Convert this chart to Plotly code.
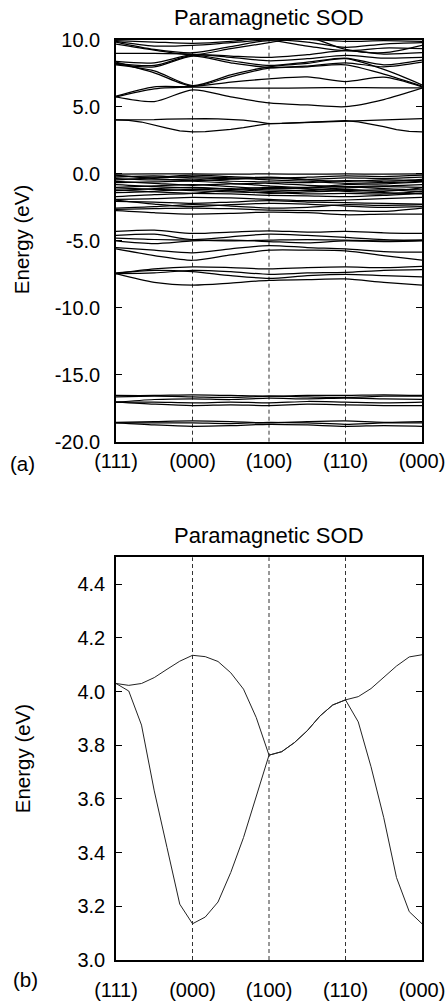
import plotly.graph_objects as go

# ---------------- data ----------------
k_labels = ["(111)", "(000)", "(100)", "(110)", "(000)"]
k_ticks = [0, 1, 2, 3, 4]
sym_lines = [1, 2, 3]

# fine k path (panel b), 6 samples per segment
k_fine = [0, 1/6, 2/6, 3/6, 4/6, 5/6, 1, 7/6, 8/6, 9/6, 10/6, 11/6, 2,
          13/6, 14/6, 15/6, 16/6, 17/6, 3, 19/6, 20/6, 21/6, 22/6, 23/6, 4]
band_low = [4.030, 4.002, 3.875, 3.630, 3.419, 3.208, 3.135, 3.160, 3.216, 3.326, 3.456, 3.611, 3.763,
            3.776, 3.810, 3.854, 3.909, 3.950, 3.969, 3.887, 3.720, 3.530, 3.307, 3.180, 3.135]
band_up = [4.030, 4.023, 4.030, 4.052, 4.083, 4.113, 4.135, 4.130, 4.112, 4.070, 4.009, 3.903, 3.763,
           3.776, 3.810, 3.854, 3.909, 3.950, 3.969, 3.981, 4.011, 4.052, 4.095, 4.129, 4.137]

# coarse k path (panel a)
k_coarse = [0, 0.5, 1, 1.5, 2, 2.5, 3, 3.5, 4]

conduction_bands = [
    [5.75, 5.40, 6.28, 5.75, 5.30, 5.15, 5.02, 5.55, 6.40],
    [5.75, 6.35, 6.48, 6.42, 6.40, 6.42, 6.45, 6.42, 6.42],
    [5.80, 6.50, 6.52, 6.85, 7.10, 7.25, 6.90, 7.22, 6.50],
    [8.35, 7.55, 6.55, 7.25, 7.90, 8.00, 8.15, 7.45, 6.55],
    [8.15, 7.70, 6.60, 7.40, 8.00, 8.25, 8.60, 7.80, 6.65],
    [8.25, 8.10, 8.85, 8.45, 8.10, 8.35, 8.65, 8.15, 8.50],
    [8.40, 8.30, 8.90, 8.70, 8.45, 8.60, 8.85, 8.65, 8.70],
    [9.00, 9.00, 8.95, 8.80, 8.70, 8.90, 9.20, 8.95, 9.05],
    [9.85, 9.30, 9.05, 9.50, 9.95, 9.55, 9.20, 9.40, 9.35],
    [9.90, 9.55, 9.60, 9.80, 10.00, 9.85, 9.45, 9.70, 9.80],
    [9.95, 9.85, 9.75, 9.90, 10.20, 10.05, 9.90, 9.95, 9.90],
    [9.70, 9.25, 8.90, 9.35, 9.80, 10.20, 9.30, 9.05, 9.60],
    [8.20, 8.00, 8.80, 8.30, 7.95, 8.05, 8.30, 8.00, 8.35],
]

valence_top = [
    [-0.02, 0.00, 0.00, -0.02, 0.00, -0.02, 0.00, -0.02, 0.00],
    [-0.15, -0.25, -0.10, -0.20, -0.30, -0.25, -0.15, -0.20, -0.10],
    [-0.35, -0.45, -0.40, -0.55, -0.60, -0.65, -0.50, -0.55, -0.40],
    [-0.55, -0.70, -0.85, -0.75, -0.70, -0.85, -0.95, -0.90, -0.80],
    [-0.80, -0.95, -1.05, -1.10, -1.20, -1.25, -1.15, -1.30, -1.05],
    [-1.05, -1.15, -1.25, -1.35, -1.40, -1.50, -1.45, -1.50, -1.30],
    [-1.20, -1.35, -1.45, -1.50, -1.60, -1.65, -1.70, -1.60, -1.45],
    [-1.70, -1.55, -1.45, -1.20, -1.00, -1.10, -1.30, -1.40, -1.50],
    [-1.90, -1.85, -1.75, -1.80, -1.90, -2.00, -1.95, -1.85, -1.75],
    [-1.95, -2.25, -2.45, -2.30, -2.20, -2.25, -2.40, -2.50, -2.45],
    [-2.55, -2.45, -2.30, -2.40, -2.55, -2.50, -2.30, -2.35, -2.30],
    [-2.65, -2.60, -2.55, -2.60, -2.70, -2.75, -2.75, -2.80, -2.55],
    [-2.75, -2.90, -3.00, -2.95, -2.85, -2.90, -3.05, -3.00, -3.00],
    [-0.10, -0.35, -0.50, -0.40, -0.30, -0.45, -0.55, -0.45, -0.50],
    [-0.65, -0.60, -0.55, -0.70, -0.90, -1.00, -0.80, -0.75, -0.60],
    [-1.00, -0.90, -0.80, -0.95, -1.10, -1.05, -0.95, -1.10, -1.20],
    [-0.25, -0.15, -0.30, -0.35, -0.25, -0.40, -0.30, -0.35, -0.25],
    [-1.40, -1.30, -1.15, -1.25, -1.45, -1.35, -1.25, -1.20, -1.35],
    [-0.45, -0.30, -0.20, -0.30, -0.45, -0.55, -0.70, -0.65, -0.55],
    [-1.25, -1.10, -1.00, -1.15, -1.30, -1.20, -1.05, -0.95, -1.00],
    [-2.05, -2.10, -2.20, -2.10, -2.00, -2.10, -2.15, -2.20, -2.25],
]

valence_low = [
    [-4.30, -4.20, -4.45, -4.35, -4.25, -4.35, -4.30, -4.40, -4.45],
    [-4.60, -4.50, -4.90, -4.70, -4.50, -4.60, -4.75, -4.90, -4.95],
    [-4.80, -4.90, -4.95, -5.00, -4.95, -4.90, -4.95, -5.00, -4.95],
    [-5.00, -5.20, -5.00, -4.95, -5.05, -5.15, -5.00, -5.05, -5.00],
    [-5.60, -6.10, -6.45, -6.05, -5.70, -5.70, -5.75, -6.10, -6.45],
    [-5.50, -5.70, -5.90, -5.60, -5.35, -5.50, -5.60, -5.80, -5.85],
    [-7.45, -7.10, -6.95, -7.00, -7.10, -7.00, -6.95, -7.00, -6.90],
    [-7.45, -7.40, -7.20, -7.30, -7.50, -7.40, -7.35, -7.20, -7.15],
    [-7.45, -8.10, -8.30, -8.15, -7.95, -7.90, -7.85, -8.10, -8.30],
    [-7.40, -7.20, -7.30, -7.60, -7.80, -7.60, -7.50, -7.60, -7.70],
]

semicore = [
    [-16.55, -16.55, -16.50, -16.55, -16.60, -16.55, -16.55, -16.50, -16.55],
    [-16.65, -16.60, -16.65, -16.70, -16.60, -16.65, -16.70, -16.60, -16.60],
    [-17.05, -16.85, -16.80, -16.85, -16.75, -16.80, -16.75, -16.80, -16.85],
    [-17.05, -17.05, -17.10, -17.05, -17.10, -17.00, -17.05, -17.10, -17.05],
    [-17.05, -17.20, -17.30, -17.25, -17.30, -17.20, -17.25, -17.30, -17.30],
    [-18.55, -18.50, -18.45, -18.50, -18.60, -18.50, -18.45, -18.55, -18.50],
    [-18.60, -18.60, -18.60, -18.65, -18.55, -18.60, -18.70, -18.60, -18.60],
    [-18.60, -18.75, -18.85, -18.80, -18.70, -18.75, -18.85, -18.80, -18.85],
]

yticks_a = [-20, -15, -10, -5, 0, 5, 10]
ytext_a = ["-20.0", "-15.0", "-10.0", "-5.0", "0.0", "5.0", "10.0"]
yticks_b = [3.0, 3.2, 3.4, 3.6, 3.8, 4.0, 4.2, 4.4]
ytext_b = ["3.0", "3.2", "3.4", "3.6", "3.8", "4.0", "4.2", "4.4"]

title_text = "Paramagnetic SOD"
ylabel = "Energy (eV)"

# ---------------- figure ----------------
FONT = "Liberation Sans, Arial, Helvetica, sans-serif"
fig = go.Figure()

top_line = dict(color="black", width=1.25, shape="spline", smoothing=0.8)
for group in (conduction_bands, valence_top, valence_low, semicore):
    for band in group:
        fig.add_trace(go.Scatter(x=k_coarse, y=band, mode="lines", line=top_line,
                                 xaxis="x", yaxis="y", showlegend=False, hoverinfo="skip"))
for band in (band_low, band_up):
    fig.add_trace(go.Scatter(x=k_fine, y=band, mode="lines", line=dict(color="black", width=1.25),
                             xaxis="x", yaxis="y", showlegend=False, hoverinfo="skip"))
    fig.add_trace(go.Scatter(x=k_fine, y=band, mode="lines", line=dict(color="#222", width=1.0),
                             xaxis="x2", yaxis="y2", showlegend=False, hoverinfo="skip"))

for xv in sym_lines:
    for xr, yr in (("x", "y domain"), ("x2", "y2 domain")):
        fig.add_shape(type="line", xref=xr, yref=yr, x0=xv, x1=xv, y0=0, y1=1,
                      line=dict(color="#333", width=1, dash="4px,3px"), layer="below")

axis_common = dict(showline=True, linecolor="black", linewidth=1.5, mirror=True,
                   showgrid=False, zeroline=False, automargin=False,
                   tickfont=dict(family=FONT, size=20, color="black"))

fig.update_layout(
    width=448, height=1004,
    margin=dict(l=116, r=26, t=40, b=44, autoexpand=False),
    paper_bgcolor="white", plot_bgcolor="white",
    font=dict(family=FONT, color="black"),
    xaxis=dict(domain=[0, 1], anchor="y", range=[0, 4], tickvals=k_ticks, ticktext=k_labels,
               ticks="", ticklabelstandoff=1, **axis_common),
    yaxis=dict(domain=[0.5634, 1], anchor="x", range=[-20, 10], tickvals=yticks_a, ticktext=ytext_a,
               ticks="inside", ticklen=6, tickwidth=1.2, tickcolor="black",
               ticklabelstandoff=10, **{**axis_common, "mirror": "ticks"}),
    xaxis2=dict(domain=[0, 1], anchor="y2", range=[0, 4], tickvals=k_ticks, ticktext=k_labels,
                ticks="", ticklabelstandoff=11, **axis_common),
    yaxis2=dict(domain=[0, 0.4377], anchor="x2", range=[3.0, 4.5], tickvals=yticks_b, ticktext=ytext_b,
                ticks="inside", ticklen=6, tickwidth=1.2, tickcolor="black",
                ticklabelstandoff=5, **{**axis_common, "mirror": "ticks"}),
)

ann_font = dict(family=FONT, size=22, color="black")
lab_font = dict(family=FONT, size=20.5, color="black")
fig.add_annotation(text=title_text, xref="paper", yref="paper", x=0.5, y=1.025,
                   xanchor="center", yanchor="middle", showarrow=False, font=ann_font)
fig.add_annotation(text=title_text, xref="paper", yref="paper", x=0.5, y=0.461,
                   xanchor="center", yanchor="middle", showarrow=False, font=ann_font)
fig.add_annotation(text=ylabel, xref="paper", yref="paper", x=-0.310, y=0.7826, textangle=-90,
                   xanchor="center", yanchor="middle", showarrow=False, font=lab_font)
fig.add_annotation(text=ylabel, xref="paper", yref="paper", x=-0.303, y=0.2185, textangle=-90,
                   xanchor="center", yanchor="middle", showarrow=False, font=lab_font)
fig.add_annotation(text="(a)", xref="paper", yref="paper", x=-0.307, y=0.540,
                   xanchor="center", yanchor="middle", showarrow=False, font=lab_font)
fig.add_annotation(text="(b)", xref="paper", yref="paper", x=-0.297, y=-0.0207,
                   xanchor="center", yanchor="middle", showarrow=False, font=lab_font)

fig.write_html("out.html", config={"displayModeBar": False},
               post_script="document.body.style.margin='0';")
